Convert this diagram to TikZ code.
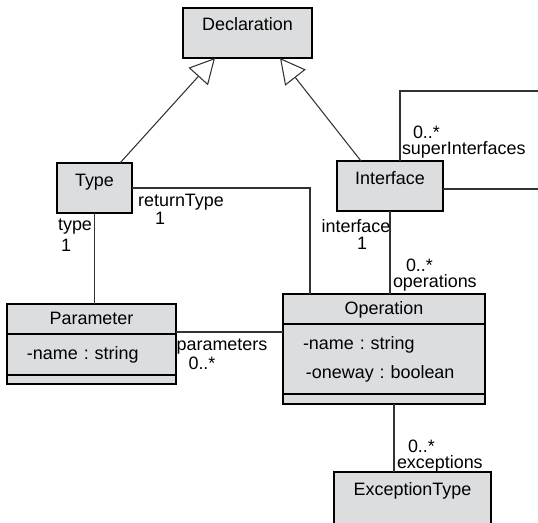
\documentclass[tikz,border=0pt]{standalone}
\usepackage{fontspec}
\setmainfont{Liberation Sans}
\usepackage{tikz}
\usetikzlibrary{arrows.meta,calc,positioning}
\definecolor{classgrey}{RGB}{220,221,223}
\definecolor{linegrey}{RGB}{50,50,50}
\frenchspacing

\begin{document}
\begin{tikzpicture}[
  font=\fontsize{10.2}{12.2}\selectfont,
  every node/.style={outer sep=0pt},
  classbox/.style={draw=black,line width=0.8pt,fill=classgrey,inner sep=0pt},
  header/.style={classbox,text height=1.5ex,text depth=.25ex},
  attrs/.style={classbox,align=left,inner xsep=0.4cm},
  role/.style={inner sep=0pt},
  roleend/.style={inner sep=0pt,anchor=south west,align=left,
                font=\fontsize{10.2}{9}\selectfont},
  inherit/.style={-{Triangle[open,length=0.5cm,width=0.52cm]},line width=0.6pt,linegrey},
  assoc/.style={line width=0.6pt,linegrey}
]
\clip (0,0) rectangle (10.76,-10.44);

% --- Class boxes with name only ---
\node[classbox,minimum width=2.58cm,minimum height=1.0cm] (decl) at (4.95,-0.66) {};
\node[anchor=base] (declname) at ($(decl.north)+(0,-0.44)$) {Declaration};

\node[classbox,minimum width=1.5cm,minimum height=1.0cm] (type) at (1.89,-3.76) {};
\node[anchor=base] (typename) at ($(type.north)+(0,-0.46)$) {Type};

\node[classbox,minimum width=2.12cm,minimum height=1.0cm] (iface) at (7.8,-3.72) {};
\node[anchor=base] (ifacename) at ($(iface.north)+(0,-0.46)$) {Interface};

\node[classbox,anchor=north,minimum width=3.14cm,minimum height=1.2cm] (exc) at (8.25,-9.44) {};
\node[anchor=base] (excname) at ($(exc.north)+(0,-0.46)$) {ExceptionType};

% --- Classes with compartments ---
\node[header,minimum width=3.38cm,minimum height=0.6cm] (parhead) at (1.83,-6.38) {Parameter};
\node[attrs,below=0pt of parhead,text width=2.58cm,minimum height=0.82cm] (paratt)
  {-name : string};
\node[classbox,below=0pt of paratt,minimum width=3.38cm,minimum height=0.18cm] (parops) {};

\node[header,minimum width=4.04cm,minimum height=0.6cm] (ophead) at (7.68,-6.18) {Operation};
\node[attrs,below=0pt of ophead,text width=3.24cm,minimum height=1.4cm] (opatt)
  {-name : string\\[0.15cm]\,-oneway : boolean};
\node[classbox,below=0pt of opatt,minimum width=4.04cm,minimum height=0.2cm] (opops) {};

% --- Generalizations ---
\draw[inherit] ($(type.north east)+(-0.24,0)$) -- ($(decl.south west)+(0.64,0)$);
\draw[inherit] ($(iface.north west)+(0.48,0)$) -- ($(decl.south east)+(-0.64,0)$);

% --- Associations ---
\coordinate (loopcorner) at (11.2,-1.82);
\coordinate (excjoin) at ($(exc.north west)+(1.2,0)$);
\draw[assoc] (type.east) -| ($(ophead.north west)+(0.54,0)$);
\draw[assoc] (type.south) -- (type.south |- parhead.north);
\draw[assoc] ($(parhead.south east)+(0,0.04)$) -- ($(parhead.south east -| ophead.west)+(0,0.04)$);
\draw[assoc] (iface.south) -- (iface.south |- ophead.north);
\draw[assoc] ($(iface.north)+(0.2,0)$) |- (loopcorner) |- ($(iface.east)+(0,-0.06)$);
\draw[assoc] (excjoin) -- (excjoin |- opops.south);

% --- Role names and multiplicities ---
\node[role] (typerole) at (1.50,-4.54) {type};
\node[role] (typemult) at (1.32,-4.90) {1};
\node[role] (rtrole) at (3.62,-4.04) {returnType};
\node[role] (rtmult) at (3.20,-4.36) {1};
\node[role] (ifrole) at (7.12,-4.52) {interface};
\node[role] (ifmult) at (7.24,-4.86) {1};
\node[role] (parrole) at (4.44,-6.94) {parameters};
\node[role] (parmult) at (4.04,-7.26) {0..*};
\node[roleend] (opend) at (7.86,-5.82) {\hspace*{0.26cm}0..*\\operations};
\node[roleend] (supend) at (8.04,-3.17) {\hspace*{0.22cm}0..*\\superInterfaces};
\node[roleend] (excend) at (7.94,-9.44) {\hspace*{0.22cm}0..*\\exceptions};
\end{tikzpicture}
\end{document}
